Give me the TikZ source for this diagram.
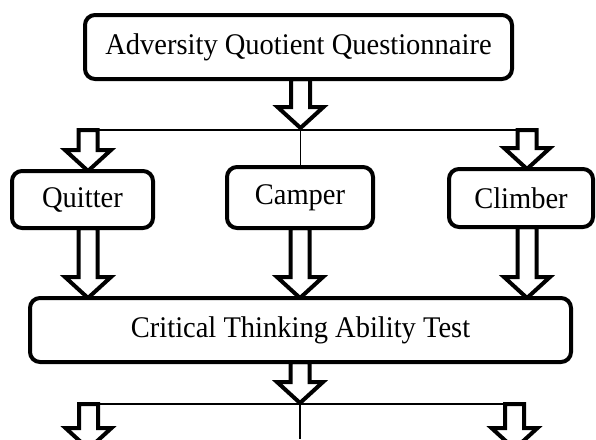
\documentclass[tikz,border=0pt]{standalone}
\usepackage{fontspec}
\setmainfont[FakeStretch=0.95]{Liberation Serif}
\usetikzlibrary{calc}
\pgfdeclarelayer{bg}
\pgfsetlayers{bg,main}
\tikzset{
  box/.style={draw, line width=4pt, rounded corners=10pt, fill=white, inner sep=0pt, outer sep=0pt,
    font=\fontsize{30}{33}\selectfont},
  thinline/.style={line width=1.3pt},
  barrow/.style={draw, line width=4pt, fill=white, line join=miter, miter limit=10,
    to path={let \p1=(\tikztostart), \p2=(\tikztotarget) in
      ({\x1-9.5pt},\y1) -- ({\x1-9.5pt},{\y2+21pt}) -- ({\x1-23pt},{\y2+21pt}) -- (\x1,\y2)
      -- ({\x1+23pt},{\y2+21pt}) -- ({\x1+9.5pt},{\y2+21pt}) -- ({\x1+9.5pt},\y1) -- cycle}}
}
\begin{document}
\begin{tikzpicture}[x=1pt,y=-1pt]
\useasboundingbox (0,0) rectangle (596,439);
\clip (0,0) rectangle (596,439);
\node[box, minimum width=427pt, minimum height=64pt] (aq) at (298.5,47) {\raisebox{-2pt}{Adversity Quotient Questionnaire}};
\node[box, minimum width=141pt, minimum height=57pt] (q) at (82.5,199.5) {\raisebox{-2pt}{Quitter}};
\node[box, minimum width=146pt, minimum height=61pt] (c) at (300,197.5) {Camper};
\node[box, minimum width=144pt, minimum height=58pt] (cl) at (521,198) {\raisebox{-2pt}{Climber}};
\node[box, minimum width=541pt, minimum height=64pt] (ct) at (300.5,330) {Critical Thinking Ability Test};
\coordinate (j1) at (300.5,130);
\coordinate (tl) at (88,130);
\coordinate (tr) at (527,130);
\coordinate (j2) at (300,404);
\coordinate (bl) at (88.5,404);
\coordinate (br) at (514.5,404);
\coordinate (bend) at (300,439);
\begin{pgfonlayer}{bg}
\draw[thinline] (tl) -- (tr);
\draw[thinline] (j1) -- (c.north -| j1);
\draw[thinline] (bl) -- (br);
\draw[thinline] (j2) -- (bend);
\draw[barrow] (aq.south -| j1) to ([yshift=2pt]j1);
\draw[barrow] (tl) to (q.north -| tl);
\draw[barrow] (tr) to (cl.north -| tr);
\draw[barrow] (q.south -| tl) to (ct.north -| tl);
\draw[barrow] (c.south) to (ct.north -| c.south);
\draw[barrow] (cl.south -| tr) to (ct.north -| tr);
\draw[barrow] (ct.south -| j2) to ([yshift=1pt]j2);
\draw[barrow] (bl) to ([yshift=-45pt]bl);
\draw[barrow] (br) to ([yshift=-45pt]br);
\end{pgfonlayer}
\end{tikzpicture}
\end{document}
